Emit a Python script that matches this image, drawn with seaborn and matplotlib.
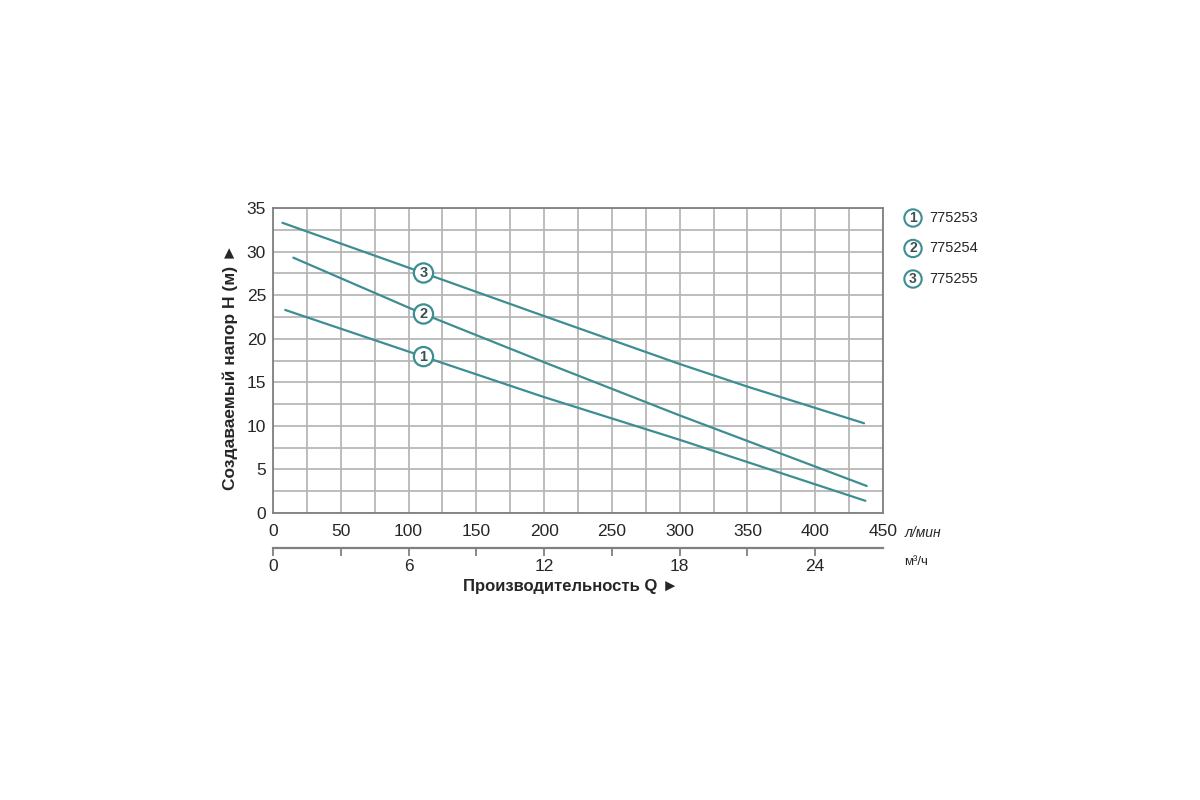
import matplotlib
matplotlib.use("Agg")
import matplotlib.pyplot as plt
import seaborn as sns
import pandas as pd
import numpy as np

# ---- data ----
models = ["775253", "775254", "775255"]
markers = ["1", "2", "3"]
q_775253 = [9, 110, 200, 300, 437]
h_775253 = [23.3, 18.0, 13.3, 8.4, 1.4]
q_775254 = [15, 110, 200, 300, 438]
h_775254 = [29.3, 22.9, 17.3, 11.2, 3.1]
q_775255 = [7, 110, 200, 300, 350, 436]
h_775255 = [33.3, 27.6, 22.6, 17.1, 14.5, 10.3]
label_q = 111
x_ticks_lmin = [0, 50, 100, 150, 200, 250, 300, 350, 400, 450]
x_ticks_m3h = [0, 6, 12, 18, 24]
x_minor_m3h = [3, 9, 15, 21]
y_ticks = [0, 5, 10, 15, 20, 25, 30, 35]

teal = "#3d8e93"
grid_c = "#b7b7b7"
frame_c = "#808080"
txt_c = "#262626"

sns.set_theme(style="white")
plt.rcParams["font.family"] = ["Liberation Sans", "DejaVu Sans"]

rows = []
for m, qs, hs in [("775253", q_775253, h_775253),
                  ("775254", q_775254, h_775254),
                  ("775255", q_775255, h_775255)]:
    for q, h in zip(qs, hs):
        rows.append({"model": m, "Q": q, "H": h})
df = pd.DataFrame(rows)

fig = plt.figure(figsize=(12, 8), dpi=100)
fig.patch.set_facecolor("white")
ax = fig.add_axes([273 / 1200, 1 - 513 / 800, 610 / 1200, 305 / 800])

sns.lineplot(data=df, x="Q", y="H", hue="model", hue_order=models,
             palette=[teal] * 3, legend=False, linewidth=1.6, ax=ax, zorder=3)

ax.set_xlim(0, 450)
ax.set_ylim(0, 35)
ax.set_xticks(x_ticks_lmin)
ax.set_xticks(np.arange(0, 451, 25), minor=True)
ax.set_yticks(y_ticks)
ax.set_yticks(np.arange(0, 35.1, 2.5), minor=True)
ax.grid(True, which="both", color=grid_c, linewidth=1.3)
ax.set_axisbelow(True)
ax.tick_params(axis="both", which="both", length=0, labelsize=12.5, colors=txt_c)
ax.tick_params(axis="x", pad=8)
ax.tick_params(axis="y", pad=5)
for s in ax.spines.values():
    s.set_color(frame_c)
    s.set_linewidth(1.3)
ax.set_xlabel("")
ax.set_ylabel("Создаваемый напор H (м) ►", fontsize=12.5, fontweight="bold",
              color=txt_c)
ax.yaxis.set_label_coords(-0.058, 0.48)

# curve number labels
curves = {"775253": (q_775253, h_775253), "775254": (q_775254, h_775254),
          "775255": (q_775255, h_775255)}
for m, num in zip(models, markers):
    qs, hs = curves[m]
    hy = np.interp(label_q, qs, hs)
    ax.text(label_q, hy, num, ha="center", va="center", fontsize=10.5,
            fontweight="bold", color="#3a4f50", zorder=5,
            bbox=dict(boxstyle="circle,pad=0.18", fc="white", ec=teal, lw=1.6))

# secondary axis in m3/h
sec = ax.secondary_xaxis(-0.115, functions=(lambda q: q * 0.06, lambda m: m / 0.06))
sec.set_xticks(x_ticks_m3h)
sec.set_xticks(x_minor_m3h, minor=True)
sec.tick_params(axis="x", which="major", direction="out", length=6, width=1.3,
                color=frame_c, labelsize=12.5, labelcolor=txt_c, pad=2)
sec.tick_params(axis="x", which="minor", direction="out", length=6, width=1.3,
                color=frame_c)
sec.spines["bottom"].set_color(frame_c)
sec.spines["bottom"].set_linewidth(1.6)

fig.text(571 / 1200, 1 - 586 / 800, "Производительность Q ►", fontsize=12,
         fontweight="bold", color=txt_c, ha="center", va="center")

# unit labels
fig.text(905 / 1200, 1 - 533 / 800, "л/мин", fontsize=10, style="italic",
         color=txt_c, va="center", ha="left")
fig.text(904 / 1200, 1 - 562 / 800, "м³/ч", fontsize=9.5, color=txt_c,
         va="center", ha="left")

# legend
for i, (m, num) in enumerate(zip(models, markers)):
    y = 1 - (218 + 30.5 * i) / 800
    fig.text(913 / 1200, y, num, ha="center", va="center", fontsize=10,
             fontweight="bold", color="#3a4f50",
             bbox=dict(boxstyle="circle,pad=0.12", fc="white", ec=teal, lw=1.5))
    fig.text(929 / 1200, y, m, ha="left", va="center", fontsize=10.5, color=txt_c)

fig.savefig("out.png", dpi=100, facecolor="white")
